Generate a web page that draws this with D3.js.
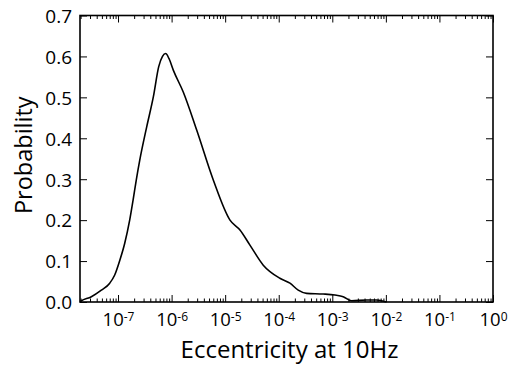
<!DOCTYPE html>
<html>
<head>
<meta charset="utf-8">
<script src="https://cdn.jsdelivr.net/npm/d3@7"></script>
<style>
  body { margin: 0; background: #fff; }
  svg text { font-family: "Open Sans", sans-serif; fill: #000; }
</style>
</head>
<body>
<div id="plot"></div>
<script>
// Eccentricity values (x) and probability (y)
const eccentricity = [
  1.95e-8, 2.07e-8, 3.18e-8, 4.88e-8, 7.0e-8, 8.67e-8, 1.08e-7, 1.33e-7,
  1.65e-7, 1.91e-7, 2.19e-7, 2.54e-7, 3.43e-7, 4.56e-7, 5.75e-7, 6.76e-7,
  7.76e-7, 8.91e-7, 1.08e-6, 1.65e-6, 2.94e-6, 6.0e-6, 1.23e-5, 1.89e-5,
  2.90e-5, 5.14e-5, 1.05e-4, 1.62e-4, 2.31e-4, 3.32e-4, 6.76e-4, 1.12e-3,
  1.60e-3, 2.29e-3, 4.37e-3, 6.70e-3, 1.03e-2
];
const probability = [
  0.001, 0.003, 0.013, 0.029, 0.046, 0.066, 0.102, 0.143,
  0.200, 0.249, 0.298, 0.346, 0.428, 0.501, 0.575, 0.600,
  0.607, 0.595, 0.566, 0.513, 0.420, 0.298, 0.200, 0.176,
  0.139, 0.090, 0.058, 0.046, 0.029, 0.021, 0.0195, 0.017,
  0.013, 0.003, 0.005, 0.005, 0.0
];
const xMajorExp = [-7, -6, -5, -4, -3, -2, -1, 0];
const yTicks = [0.0, 0.1, 0.2, 0.3, 0.4, 0.5, 0.6, 0.7];
const xLabel = 'Eccentricity at 10Hz';
const yLabel = 'Probability';

const margin = {top: 15.5, right: 16, bottom: 65, left: 80},
  width = 509 - margin.left - margin.right,
  height = 367 - margin.top - margin.bottom;

const svg = d3.select('#plot')
  .append('svg')
    .attr('width', 509)
    .attr('height', 367)
  .append('g')
    .attr('transform', 'translate(' + margin.left + ',' + margin.top + ')');

const x = d3.scaleLog().domain([1.95e-8, 1]).range([0, width]);
const y = d3.scaleLinear().domain([0, 0.7]).range([height, 0]);

const majors = xMajorExp.map(e => Math.pow(10, e));
// minor ticks: 2..9 in each decade inside the domain
const minors = [];
for (let e = -8; e < 0; e++) {
  for (let m = 2; m <= 9; m++) {
    const v = m * Math.pow(10, e);
    if (v >= x.domain()[0] && v <= 1) minors.push(v);
  }
}

function styleAxis(g) {
  g.select('.domain').remove();
  g.selectAll('.tick line').attr('stroke', '#000').attr('stroke-width', 1);
}

// bottom / top ticks (pointing inward)
svg.append('g').attr('transform', 'translate(0,' + height + ')')
  .call(d3.axisBottom(x).tickValues(minors).tickSize(-3.5).tickFormat(''))
  .call(styleAxis);
svg.append('g')
  .call(d3.axisTop(x).tickValues(minors).tickSize(-3.5).tickFormat(''))
  .call(styleAxis);
svg.append('g')
  .call(d3.axisTop(x).tickValues(majors).tickSize(-7).tickFormat(''))
  .call(styleAxis);

const xAxis = svg.append('g').attr('transform', 'translate(0,' + height + ')')
  .call(d3.axisBottom(x).tickValues(majors).tickSize(-7).tickPadding(0).tickFormat(''))
  .call(styleAxis);

xAxis.selectAll('.tick').each(function (d) {
  const e = Math.round(Math.log10(d));
  const t = d3.select(this).append('text')
    .attr('y', 24)
    .attr('text-anchor', 'middle')
    .style('font-size', '18.5px');
  t.append('tspan').text('10');
  t.append('tspan').attr('dy', -5.5).style('font-size', '12px').text(e === 0 ? '0' : '-' + Math.abs(e));
});

// left / right ticks
const yAxis = svg.append('g')
  .call(d3.axisLeft(y).tickValues(yTicks).tickSize(-7).tickPadding(8).tickFormat(d3.format('.1f')))
  .call(styleAxis);
yAxis.selectAll('.tick text')
  .style('font-size', '19px')
  .attr('dy', '0.36em');
svg.append('g').attr('transform', 'translate(' + width + ',0)')
  .call(d3.axisRight(y).tickValues(yTicks).tickSize(-7).tickFormat(''))
  .call(styleAxis);

// frame
svg.append('rect')
  .attr('width', width)
  .attr('height', height)
  .attr('fill', 'none')
  .attr('stroke', '#000')
  .attr('stroke-width', 1.6);

// curve
const line = d3.line()
  .x(d => x(d[0]))
  .y(d => y(d[1]))
  .curve(d3.curveMonotoneX);

svg.append('path')
  .datum(eccentricity.map((e, i) => [e, probability[i]]))
  .attr('fill', 'none')
  .attr('stroke', '#000')
  .attr('stroke-width', 1.6)
  .attr('d', line);

// axis labels
svg.append('text')
  .attr('x', (180 + 399) / 2 - margin.left)
  .attr('y', height + 55.5)
  .attr('text-anchor', 'middle')
  .style('font-size', '24px')
  .text(xLabel);

svg.append('text')
  .attr('transform', 'translate(' + (-48) + ',' + (height / 2 - 3.5) + ') rotate(-90)')
  .attr('text-anchor', 'middle')
  .style('font-size', '23.5px')
  .text(yLabel);
</script>
</body>
</html>
